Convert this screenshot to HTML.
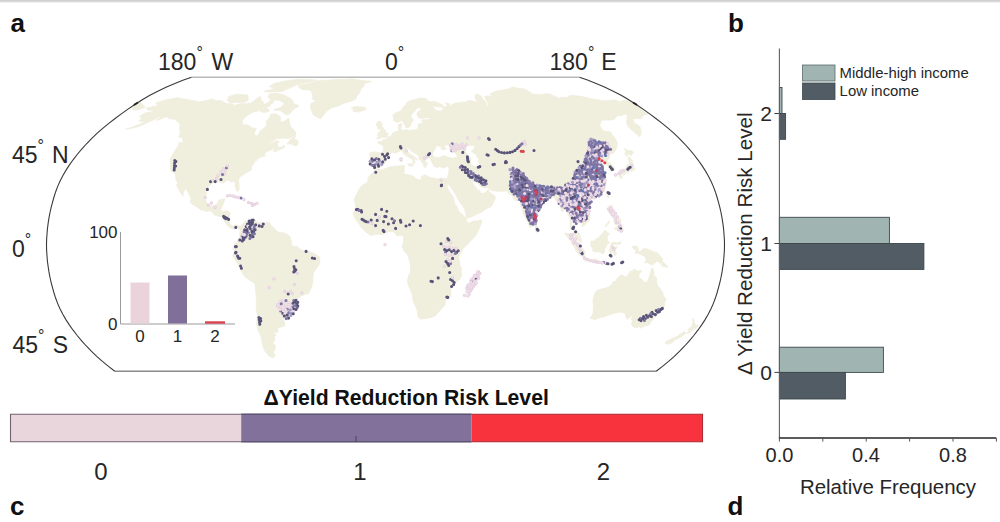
<!DOCTYPE html>
<html lang="en"><head><meta charset="utf-8"><title>Yield Reduction Risk Level</title>
<style>html,body{margin:0;padding:0;background:#fff}body{width:1000px;height:522px;overflow:hidden;font-family:"Liberation Sans", Arial, Helvetica, sans-serif}svg{display:block}text{font-family:"Liberation Sans", Arial, Helvetica, sans-serif;fill:#262626}.b{font-weight:bold;fill:#111}</style>
</head><body>
<svg width="1000" height="522" viewBox="0 0 1000 522">
<rect width="1000" height="522" fill="#fff"/>
<defs><linearGradient id="topg" x1="0" y1="0" x2="0" y2="1"><stop offset="0" stop-color="#cbcbcb"/><stop offset="0.4" stop-color="#d6d6d6"/><stop offset="1" stop-color="#ffffff"/></linearGradient></defs><rect x="0" y="0" width="1000" height="3.2" fill="url(#topg)"/>
<text class="b" x="10.5" y="32" font-size="26">a</text>
<text class="b" x="728" y="31.5" font-size="26">b</text>
<text class="b" x="10" y="514.5" font-size="26">c</text>
<text class="b" x="727.5" y="514.5" font-size="26">d</text>
<defs><clipPath id="mapclip"><path d="M191.5 77.2 183.5 80.1 174.9 83.5 166 87.3 157.3 91.4 149.4 95.6 141.9 100 134.8 104.5 128 109.1 121.3 113.9 114.8 118.7 108.5 123.6 102.4 128.6 96.7 133.7 91.3 138.8 86.3 144 81.7 149.2 77.2 154.5 73.1 159.8 69.3 165.1 65.9 170.4 62.8 175.7 60.1 181 57.7 186.4 55.7 191.7 54 197 52.5 202.4 51.1 207.7 49.9 213 48.9 218.3 48.1 223.7 47.4 229 47 234.3 46.6 239.7 46.5 245 46.6 250.3 47 255.7 47.4 261 48.1 266.3 48.9 271.7 49.9 277 51.1 282.3 52.5 287.6 54 293 55.7 298.3 57.7 303.6 60.1 309 62.8 314.3 65.9 319.6 69.3 324.9 73.1 330.2 77.2 335.5 81.7 340.8 86.3 346 91.3 351.2 96.7 356.3 102.4 361.4 108.5 366.4 114.8 371.3 L656.2 371.3 662.5 366.4 668.6 361.4 674.3 356.3 679.7 351.2 684.7 346 689.3 340.8 693.8 335.5 697.9 330.2 701.7 324.9 705.1 319.6 708.2 314.3 710.9 309 713.3 303.6 715.3 298.3 717 293 718.5 287.6 719.9 282.3 721.1 277 722.1 271.7 722.9 266.3 723.6 261 724 255.7 724.4 250.3 724.5 245 724.4 239.7 724 234.3 723.6 229 722.9 223.7 722.1 218.3 721.1 213 719.9 207.7 718.5 202.4 717 197 715.3 191.7 713.3 186.4 710.9 181 708.2 175.7 705.1 170.4 701.7 165.1 697.9 159.8 693.8 154.5 689.3 149.2 684.7 144 679.7 138.8 674.3 133.7 668.6 128.6 662.5 123.6 656.2 118.7 649.7 113.9 643 109.1 636.2 104.5 629.1 100 621.6 95.6 613.7 91.4 605 87.3 596.1 83.5 587.5 80.1 579.5 77.2Z"/></clipPath><filter id="soft" x="-5%" y="-5%" width="110%" height="110%"><feGaussianBlur stdDeviation="0.6"/></filter><filter id="dsoft" x="-5%" y="-5%" width="110%" height="110%"><feGaussianBlur stdDeviation="0.45"/></filter></defs>
<g clip-path="url(#mapclip)">
<g filter="url(#soft)"><path d="M146.7 108 154.6 106.3 157.4 106.3 157.1 104.5 155.7 103 164.4 100.3 177 97.7 181.8 98.6 185.9 99.4 193.8 100.7 199 101.9 204.4 100.9 213.3 99.1 215.5 100.7 221.2 100.5 226.2 103.6 232.8 103.9 234.2 105.4 241.4 103.6 246.7 103.9 251.9 102.7 257.2 98.2 260.7 96.5 261.1 99.1 261.3 101.2 263.6 101.8 262.9 104.5 266.4 103.6 269.8 100.9 274.1 100.5 273.2 102.7 269.3 105.4 270.7 106.3 265.6 106.7 261 109.1 258.3 111 253.3 111.9 249.7 113.9 245.5 116.8 242 120.7 242.6 123.2 242.5 124.6 247.7 125 252.2 128 256.3 128.2 254.4 132.7 255 134.7 256 136.1 258 135.3 260.6 130.6 264.9 127.6 267 125 266 121.2 268.9 118.7 270.9 114.1 276.7 114.2 279.9 116.4 280.5 118.7 280 120.7 281.6 122 285.1 121 288.5 118.1 289.7 122.6 290.4 126.6 292.7 128.6 294.3 130.6 295.9 133.1 295.6 134.7 293.2 136.1 289.2 138.4 282.7 138.2 277 138.4 272.8 140.9 268.2 144.4 271 143.6 276.1 140.9 279.3 140.9 277.8 143 277.5 145 278.1 147.1 282.2 147.5 283.8 145 284.8 147.1 281.8 148.8 278 150.3 274 152.2 273.4 150.3 276.8 148.6 272.4 149.2 268.5 150.9 265.3 152.8 264.3 154.9 265.2 155.9 262.3 156.8 257.5 158.5 256.4 160.8 254.3 161.2 254.3 163.1 251.7 166.1 251.4 169.7 248.5 171.4 244.3 174 240 176.8 238.6 180 239.1 184.2 239 190 237.1 191.3 236 189.1 235 185.7 235.3 183.2 233.6 181 230.8 181.7 228.4 180.2 226.5 180.4 223.8 183 221.5 182.7 219 181.9 215.3 181.9 213.3 182.7 208.6 185.9 207.4 189.8 205.3 197.5 205.9 201.3 207.5 204.1 210.2 206.2 214.9 205.3 217.8 202.8 218.6 200.2 223.2 198.9 225 199.2 223.5 203.4 221.7 207.7 220 211.1 222.5 211.3 227.2 210.9 230.2 213 229.4 217.3 228.7 221.5 230.2 224.5 233.5 226.2 236.4 224.7 240.1 226.5 240.4 227.9 239 228.8 236.3 226 234.8 227.5 234.3 229.4 232.1 228.6 229.7 227.3 228.6 226.7 226.1 224.1 224.8 221.8 222.3 217.7 221.5 216.6 218.3 216.2 214.7 215.2 210.5 210.5 206.7 211.5 199.9 209.2 196.2 206.6 191.9 204.1 190.3 201.5 191.2 199.2 189.8 195.5 187.6 191.7 185.7 188.1 183 193.4 183.2 196.2 180.1 192.3 177.6 187.4 176.3 185.3 177.9 183.2 176.1 180 175.6 175.7 174.3 172.5 171.1 171.4 170.4 167 170.6 164.4 170 158.9 173.4 153.4 177.7 146.7 179.4 142.1 181.7 143 183.4 140.9 181.9 137.8 178.6 136.8 180.1 133.7 179.9 130 179.6 127.6 180 123.6 177.7 122 175.1 119.3 168.9 118.7 166.5 116.8 160 119.3 155.6 120.3 162.5 116.4 158.6 117.1 151.7 120.7 144.2 124 138.3 126.6 132 128.2 125.5 129.4 132.4 127 141.6 123.6 145.7 121.2 143.2 121.4 138.9 121.2 141.8 118.7 139.7 116.2 145.2 112.9 151.8 111.8 153.9 110.1 147.6 110.1ZM287 143.8 289.7 140.3 292.8 137.4 295.8 135.5 294 138.8 296.9 139.8 298 141.9 297.9 144 296.1 145.7 292.9 145.2 292.5 143.8ZM298.9 106.3 293.9 109.1 290.6 112.9 288.1 114.8 284.9 113.9 282.3 111.9 280.3 110.4 273.3 110.1 280.7 107.3 284.4 103.6 280.7 100.9 277.9 100 270.5 100 268 96.5 269.6 93.9 275.8 93.5 280.6 93.9 284.7 95.2 287.4 97 290.6 98.2 292.9 100.9 293.4 103.6 297.5 105ZM241.2 102.3 229.9 102.7 227 100.1 229 97.7 227.8 97 236.2 94.2 244.7 94.7 248.1 95.2 248.1 100 245.7 101.9ZM263.8 91.4 268.2 92 281.2 91.7 284.8 90.5 285.9 89.4 289.6 88.1 296.3 84.9 307 82.4 315.9 80.1 307.6 79.5 296.4 79.5 282.8 81.4 274.3 83.5 269.4 86.5 274.9 88.1 270.6 89.7ZM259.7 111 263.1 112.5 267.8 111.9 269.5 110.4 267 107.6 263.1 108.2ZM297.9 85.7 308.3 83.5 317.6 80.7 335.2 79.7 352.4 78.9 362.9 80.7 371.8 81.4 364.4 83.5 363.7 86.5 360.5 89.7 359.8 93 356.5 96.5 355.9 99.1 349.9 101.8 344 103.2 337.6 106.3 331.5 107.8 325.9 111.9 320.8 118.7 316.8 117.1 313.2 114.8 311.8 111 310.5 107.3 310.7 103.6 316.1 100.9 312.2 99.1 312.9 96.5 312.2 93 310.3 90 303.1 89.7 299.4 88.1ZM351.3 108.2 354.5 106.5 360.1 106.9 365 107.3 366.2 109.1 363.9 110.6 357.9 112.1 352.9 111.4 354 109.5ZM240.1 226.5 244 222.6 245.4 221.3 249.8 219.8 251.8 218.6 251.4 221.5 254.5 219.4 258.1 222.4 261.8 222.4 265.6 223 269.3 222.2 271.1 225.8 272.9 227.1 275.6 230.1 278.4 232.2 282.1 232.2 286.8 234.3 289.6 236 291.4 241.2 291.3 245 294.2 246.5 297 246.5 302.1 250.3 307.4 251.2 313.1 252.9 319.3 256.7 320 262.1 318.6 265.7 316.2 268.5 313.5 272.7 312.8 277 312.7 282.7 311.2 288.3 308.2 294 305.5 294 300.5 296.2 297.1 299.4 297 303.8 295.4 307.5 292.1 313.2 290.1 317.5 287.8 319.4 285.7 319.4 281.4 317.5 284.4 321.7 284.7 326 277.4 328.1 278 331.9 273.3 332.4 276.4 335.5 274.5 336.6 274.9 340.8 272.3 342.9 275.6 345.4 274.8 350.2 273 351.8 275 355.3 273.2 358.1 269.2 356.3 264.9 351.2 262.5 345 261.6 338.7 260.1 334.5 257.9 330.2 256.6 323.9 257.4 315.4 256.2 309 256.6 302.6 256.1 295.3 255.1 284.2 251.6 281.2 245.7 277.6 243 274.4 241.2 270.6 238.7 266.3 238 264.2 235.6 260.4 232.6 255 234.4 252.2 234.9 250.3 233 249.7 233.3 247.1 234.8 243.3 236.7 241.8 237.1 241.2 240 236.9 239.8 233.3 240.1 230.1 239.2 229.6 240.4 227.9ZM375.1 168.7 376.1 168.5 382 170.2 384.4 168.9 390.8 166.5 397.8 166.1 402.7 165.5 404.9 166.1 404.1 168.3 404.7 171 403.3 172.7 405.2 174.2 409.1 174.9 412.8 175.9 418 180 421.6 179.3 421.4 176.6 424.3 174.9 426.7 175.5 428.6 176.8 430.5 177.6 434.1 178.3 437.8 179.1 439.5 178.5 441.3 177.8 443.7 178.5 444.3 181 444.5 182.1 446.4 185.3 447.1 187 449.6 191.7 451.1 194 453.7 198.1 454.4 203.2 457 206.6 459.1 211.7 462 214.1 464.9 217.3 466.5 218.1 466.4 220.5 467.9 222.6 469.8 222.8 473.5 221.1 477.2 220.9 481.5 219.8 481.4 222.8 479.4 227.9 477.6 232.2 475.8 235.4 470.8 240.7 466.5 245.4 465.5 245.9 462.7 249.3 462.5 249.9 460.2 253.5 458.4 257.8 459.3 259.5 459.6 263.1 459.9 266.3 461.4 267.4 461.2 271.7 461.6 275.9 460 279.1 456.1 282.3 454.2 283.4 450.1 287.2 450.9 291.9 450.7 296.2 445.9 299.4 445.1 300.4 445.3 304.7 441.6 308.7 435.6 315.4 431.3 317.5 421 319.2 418.3 317.5 417.8 314.3 416.8 309 415.5 306 413.2 301.7 412.2 294 410.4 289.8 407.8 283.4 407.5 280.2 408.8 274.8 410.6 271.9 410.3 263.8 408.6 257.8 407.7 255.2 404.3 251.4 403 248.2 401.9 246.5 403.2 244.1 403.6 239.7 403.8 236.5 401.5 235.4 398.7 235.6 396.8 235.8 394.9 232.6 391.9 231.4 388.3 231.8 385.1 233.3 381.7 234.8 378 233.9 374.2 234.8 371 235.6 365.2 231.6 360.7 226.9 359.8 224.7 357.4 221.5 355.6 219.4 354.3 216.2 352.9 213.7 354.8 210.9 355.4 206.6 355.3 203.4 354.1 200.2 356.1 194.9 359 189.6 361.9 185.5 365.5 183.6 367.4 182.1 368 180.2 367.9 177.8 371.9 173.4 373.4 172.5ZM376 168 374.4 167.2 372.5 165.7 369.7 166.1 368.9 162.5 370.5 157.2 369.6 153.4 371.9 151.9 375.8 152.2 380.4 152.6 382.9 152.4 383.5 148.2 383.5 146.7 381.8 144.6 378 143.4 377.6 142.1 380.6 141.3 382.9 141.5 382.9 139.4 385.7 139.8 388.4 137 391.2 135.9 393 132.7 396.6 131.6 399 130.6 398.3 127.6 398.2 124.6 401.8 123.2 401.8 125.6 401.2 127.6 401.3 129.6 402.9 130.6 404.5 130.2 406.8 129.6 408.2 130.6 415.1 129.8 416.8 129.6 417 128.8 418.3 127.2 418 124.6 420.1 123.2 422.6 124.6 422.6 122 421.1 120.3 422.8 119.7 427.8 119.7 430.6 118.7 428.1 117.5 423 118.3 418.5 117.9 417.4 115.8 416.9 112.9 421.8 109.1 419.5 107.6 416.8 108 414.9 111.4 411 114.8 411.2 117.3 413.5 120.1 410.9 123.6 410.4 126.2 407.9 127.6 405.9 127.6 404.9 125.6 403.9 123.2 401.7 120.1 401.1 120.7 397.7 122.4 394.7 121.6 394 120.7 393.3 117.9 392.9 114.8 395.7 112.9 400 111.4 401.3 110.1 403.2 107.3 405.6 104.9 406.8 102.7 410.6 100.5 414.5 99.6 419.8 98 422.9 98.2 427.3 99.3 426.2 100.3 430.7 101.8 434.7 101.4 442.7 104.9 443.4 106.7 439.2 107.1 431.8 105.8 434.9 109.1 435.9 110.4 440.4 111 443.7 109.9 442.2 107.6 447.5 106.3 445.4 102.7 449.2 103.6 450.8 105.8 452.3 104.3 457.1 102.7 460 103 461.1 102.3 466.4 101.9 468.3 100.3 474.3 101.4 477.8 102.7 475.1 98.2 475.4 94.7 477.1 94.4 480.4 95.2 482.4 98.2 486.6 103.6 487.1 106.7 488.6 104.5 484.5 96.5 486.9 96.1 489.4 95.9 492.4 96.5 497.2 99.1 492.4 95.6 489.7 93.9 495.8 91.4 504.2 89.7 509.4 88.9 512.3 87 517 88.1 524.3 88.9 531.4 93 527.3 93.4 531.8 93.9 540.6 94.7 544.7 93.9 549.9 93.9 558.6 98.2 562.2 97.3 567.5 97.3 569.2 95.6 577.3 95.8 584.6 97.1 589 98.4 603.1 100.7 605.8 100.7 615.6 100 619.7 101.8 624.3 100.3 632 101.8 643 109.1 643 110.1 640.3 109.7 648.3 113.9 644.2 115.2 642 116.9 641.6 118.7 635.2 118.7 632.4 118.9 634.1 121.6 634.1 123 639.7 126.2 640.7 129 641.2 132.7 640.5 134.7 639.8 136.8 634.8 132.7 628.1 126.6 626.5 123 627 119.7 627.2 115.8 626.2 113.9 622 115.2 617.5 115.8 613.7 119.7 609.6 120.1 602 120.1 600.4 123 599.8 125.6 602.2 130 603.9 131 608.4 131.6 611 132.3 611.7 133.7 615.2 138.8 617.2 141.9 617.1 146.1 615.7 150.3 612.9 153.8 610.8 153.2 609.6 154.9 609.5 157.6 609.5 158.3 607 160.2 607.5 161.4 610.4 163.4 613.3 166.1 614.5 168.3 614.6 170.2 612.5 171 610.2 171.4 608.7 167.2 607.9 165.1 605.7 164.6 604.2 163.6 603.5 160.8 601.4 159.8 597.6 162.3 597.6 161.2 596.7 158.7 594.5 157.8 593.2 160 591 161.9 593.2 164 594.3 164.6 596.2 165.7 597.4 164.4 600.8 165.3 601.1 166.3 598.4 168.3 597.3 170.4 597.7 171 600.7 173.6 602.4 175.7 604.7 177.4 605 178.9 604.1 180.4 606.1 181.3 606.3 184.2 605.6 185.3 604.5 189.6 604.2 190.6 602.3 192.8 600.1 195.3 595.9 197.5 594.7 197.7 592.1 198.7 589.4 199.6 589.4 201.7 588.1 199.2 586.6 199.2 584.8 199.2 582.8 200.7 581.4 203.4 581.6 205.1 583.3 207.3 585.9 209.8 587.1 210.9 588.7 213 589.6 215.6 590 219.4 587.8 222 586 222.8 585.2 224.7 582.2 226.7 582.3 223.7 581.3 222.8 578.4 221.5 577.3 219.4 574.3 217.9 573.2 216.2 572.5 218.3 572.3 220.5 571.4 222.6 571.8 225.2 573.4 226.9 574.5 229.6 576.2 230.3 577.8 231.8 580 234.8 580.1 236.9 581.3 239.7 581.3 242.2 580.2 242 577.9 240.3 576.2 238.6 574.6 235.4 574.1 233.5 573.6 231.1 572.8 230.1 570.1 228.2 570.1 225.8 570.3 223.3 570.2 219.4 568.6 215.2 567.4 212 567.1 209.8 565.5 208.8 564.5 209.6 563 211.3 561.1 210.9 561 207.7 560.1 204.9 557.3 202.1 555.3 199.6 554.6 197.5 552.7 197 551.4 198.1 549.7 198.7 547.8 198.7 546 199.4 546.1 200.9 544.3 202.8 542.9 203.9 540.2 207.3 538.6 209.6 536.7 211.3 534.8 212.4 535.6 217.1 534.8 219.8 535.1 223 534.2 225.2 532.2 226 531 227.7 529.8 226.9 528.3 223.7 527.4 220.9 525.3 217.5 523 212.2 521.8 208.8 520.4 204.5 520.1 201.3 519.5 199.8 519.1 197.7 518.6 199.8 516.7 200.9 514.8 200.2 512.6 197.5 514.7 196.2 512 195.5 510.8 194.5 509.3 193.8 508.3 192.1 507.2 190.8 503.6 191.3 499.6 191.3 496.5 191.1 493.5 190.8 490.3 190 488.1 187.2 485 188.3 482.2 187.4 477.7 183.4 475.9 181 474 180.2 473.2 181 472.4 182.3 473.6 184.2 475.1 186.4 476.7 188.1 477.3 190.2 478.6 192.1 479.1 189.4 480.1 191.7 480.6 193.8 485.3 192.8 486.8 191.1 488.4 188.9 488.9 191.7 493.2 194.7 495.6 197 494 201.3 492.6 204.5 491.3 206.6 485.9 208.8 482.7 211.7 476.9 214.1 473.3 216 469.6 217.7 466.8 217.9 466.2 216.6 465.5 213.4 465 210 464.5 208.8 461.5 204.5 457.8 199.2 455.3 193.8 453.6 191.3 452.2 189.6 450.2 186.4 448.8 185.3 448.9 182.1 447.9 185.7 445.8 184 444.4 181 443.6 178.3 446.4 178.7 447.2 178.1 448 176.6 448.2 175.1 448.8 172.7 448.9 169.3 449.3 167 446.5 166.5 443.5 168.3 439.6 166.3 437.6 167.8 435.4 166.8 433.7 166.1 432.4 163.1 431.1 161.2 431 159.8 430.5 158.5 430.3 158.1 427.7 157.8 426.8 159.8 425.1 158.7 424.7 159.8 425.6 161.2 427.5 163.6 427.1 164.2 426.3 165.5 426.1 167.2 425 167.2 423.7 166.5 422.9 164.4 423.5 163.6 421.8 162.3 420.6 160.8 419.1 158.9 418.9 157 418.5 155.5 416.5 154.3 413.4 152.4 411.3 151.1 409.8 148.6 408.5 149.4 408.7 148 406.2 148.4 406.5 150.3 406.9 151.3 408.5 152.2 409.8 154.5 413.3 155.7 414.7 157.4 416.6 158.5 417.6 159.5 417.3 160.2 415.3 158.9 414.4 160.6 415.5 161.9 414.4 163.1 413.6 164.2 412.8 164 413.1 161.9 412.8 159.8 411.1 158.5 410 158.1 408.8 157.2 406.5 155.9 405.8 155.3 404.3 154.5 403.4 153.4 403 152.4 402.1 151.1 400.6 150.5 399.1 151.5 397.9 151.9 395.7 153.2 394.7 152.8 392.3 152.4 390.6 153 390.6 154.5 389.3 156.8 387.6 157.4 386.9 158.3 385 160.8 385.8 162.5 384.6 163.4 383.7 164.8 381.3 166.5 377.7 166.8ZM139 101.8 141.2 103 143.2 105.4 145.5 107.1 137.4 110.1 132.9 109.7 132.8 107.3 128 109.1ZM376.2 138.6 378.7 136.3 380.6 135.9 377.1 135.1 378.8 133.1 378.3 132.1 380.7 131.9 380.8 130.2 380 128.8 377.6 129 377.7 127.2 377.9 126.6 376.2 125.4 376.6 123.4 377.9 121.4 380.9 121.4 379.3 123.4 382.4 123.2 382.3 124.4 380.8 126.6 382.4 127 383.3 128.6 385.3 130.4 385.7 131.4 386 132.9 388.2 133.3 388.1 134.7 386.6 135.7 387.8 136.5 386 137.2 383.7 137.2 381.4 137.6 379.8 138 379.6 138.4ZM629.3 156.8 628.4 157.2 627.7 158.5 628.9 160.4 629.1 164 626.5 165.7 626.7 165.1 626.4 166.5 625.8 167.8 626.3 168.9 624.8 168.9 622.9 169.3 620.4 169.5 618.6 171.7 621.1 172.1 623.9 171.4 626.2 171.4 627.9 173.6 629 171.7 628.6 170.4 631.3 171.2 632.3 171.2 633.2 169.3 634.1 170.4 634.9 168.9 633.4 166.5 632.4 163.6 632.5 161.9 632.5 160.6 630.5 158.7ZM626.6 156.6 626 154.9 624.8 154.3 625 152.8 626.4 152.8 625.4 150.3 623.9 148.2 627.6 150.3 631.8 150.7 633.9 152.8 632.1 153.4 631.4 155.5 627.9 154.3 626.6 154.5 627.4 155.9ZM618.8 172.5 620.7 173.6 621.7 174.6 622.1 177.8 621 178.7 619.3 176.8 617.6 174.6 617.7 173.6ZM621.9 172.9 624.4 171.9 625.8 172.9 625.4 174 623.7 175.1 622.1 174ZM608 191.1 609.3 192.8 608.6 198.1 606.7 196 607.1 192.6ZM589 202.4 590.9 203 590.4 205.6 588.7 206.2 586.9 204.1 588.1 202.6ZM535.5 224.1 537.9 226.9 539.4 230.1 538.1 231.8 536.3 232.2 535.4 230.1 535.3 226.9ZM609.2 205.6 612.1 205.6 612.9 208.8 611.9 210.9 612.4 214.1 614.1 214.7 617.1 215.8 617.4 218.1 615.3 216.9 614.4 216.4 612.7 215.4 610.7 215.6 611 213.9 609.5 213.4 608.5 210.2 609.3 209.6 609.2 207.7ZM620.8 224.1 622.6 226.9 623.2 230.1 622.7 231.6 621.4 232.8 621 232 621.7 230.1 618.8 229.4 618.5 231.1 616.5 229 614.7 230.1 614.9 227.9 617.3 226.7 619.2 226.7ZM618 218.3 620.3 218.8 620.9 221.5 620.2 223.3 618.8 222.6 618.8 220.5ZM613.8 219.8 616.1 220.5 616.9 222.6 616.6 225.4 615.2 224.7 614.1 222.6ZM605.5 226.9 607.7 224.7 609.4 222 608.9 220.9 607.2 223.3 605.4 225.8ZM564.7 233.1 568.9 233.9 571.2 236.9 574.5 240.3 579.5 243.9 581.4 247.1 585 251.4 584.4 257.4 582 256.7 578 253.5 575.6 250.3 574.4 246.9 571.9 242.9 570 239.7 567.1 236.9ZM583.2 259.5 584.9 257.8 589.4 259.3 593.1 259.7 594.1 258.6 597.2 259.9 600.5 261.4 600.2 263.5 595.7 262.9 590.2 261.6 585.5 260.8ZM590.8 241.8 591.9 240.7 594.5 241.8 595.2 239.7 598.2 238 600.9 235 602.7 233.3 604.9 230.1 606.7 231.8 609.7 233.9 607.5 235.8 607.2 238.6 607.7 240.7 609.6 242.9 607.3 243.3 606.8 246.1 604.9 248.2 604.4 252.5 603.8 253.5 601.1 253.5 601 252.2 598.2 251.8 595.7 252 592.9 251.2 592.6 248.2 590.8 246.1 590.8 243.9ZM611.1 243.3 613.2 242.2 618.1 243.1 621.3 241.6 620 244.1 617.7 244.4 613.4 244.1 611.9 246.9 614.3 247.1 617.7 246.7 616.2 248.6 614.6 249.3 616.6 253.5 615.5 255.2 614 255 613.3 251.4 612.1 251.4 611.9 256.7 610.2 256.7 610.4 252.5 609.1 251 610.2 247.8 611.1 245ZM632.2 246.7 635 245.9 637.9 246.7 638.2 249.9 639.6 252 643.5 248.8 646.3 248.8 650.9 250.5 657.4 253.1 659.7 255.2 661.6 257.8 663.2 259.3 661.7 259.7 663.3 262.5 665.9 264.6 668.1 267 665.7 267 662.4 266.3 659.6 262.5 656.9 261.2 654.8 263.1 652.8 264.6 650 264.4 647.4 262.3 644.5 262.9 646.3 259.9 645 256.7 641.3 254.8 637.6 253.3 635.4 253.5 635.7 251.2 637.4 250.1 634 249.7ZM652.5 267.8 653.9 271.7 653.8 275.7 656.4 277 656.6 281 657.4 285.9 660.1 288.1 660.9 290.2 663.2 293 662.8 294.9 665 298.3 666.2 298.3 664.3 303.6 664.4 306 661.2 311.1 657.2 315.1 655.1 317.3 651.1 321.7 649 324.9 645 325.8 640.7 328.3 639.4 326 635.9 327.9 632.5 326.2 631.4 323.9 632.4 321.3 631.4 319.6 632.4 315.4 632.4 314.5 629.7 317.5 627.2 319.2 626.6 319.2 625.6 315.4 625.3 313.4 621.2 312.2 617.5 312.4 611.5 313.9 607.4 315.4 602.9 317.3 598.3 318.1 595 319.6 590.2 318.3 593.3 313.2 593.1 310 593.5 306.4 593 300.4 593.5 297.2 595.7 291.5 598.8 289.8 601.3 288.9 604.8 288.3 609.5 286.6 612.3 283.4 613.2 281.2 615.2 281.9 616.3 279.8 618.6 277 621.7 274.8 623.9 275.9 624.5 277 627 276.8 630.1 271.4 633.4 270.6 633.6 268.9 638 271 641.5 270.6 641.6 271.2 639.5 273.8 638.5 277 641.5 279.1 644.3 282.3 647.1 282.3 649.3 277 650.4 272.7 650.7 271.9 651.6 268.5ZM692.9 318.3 694.3 320.7 693.8 323.5 695.3 323.5 694.9 325.2 698 325.2 698.8 325.4 695.3 328.6 693.5 329.2 689.9 332.4 686.9 333.4 686.7 333 689.1 330.9 687.9 329.2 690.3 327.7 692.5 324.9 692.8 322.8 692.6 319.6ZM684.5 331.3 685.7 333.2 682.1 336.2 679.2 338.1 675.3 339.7 672.2 342.7 668.5 344.1 667 343.9 664.8 342.9 667.4 340.8 671.6 338.7 676.7 336.6 680.4 334.1ZM407.4 164 412.6 163.6 412.3 166.5 408.4 165.5ZM399.8 157.6 402.2 157.6 402.2 161.4 400.3 161.9Z" fill="#f0eedd" stroke="#f0eedd" stroke-width="0.8" stroke-linejoin="round"/>
<path d="M433.6 155.7 432.6 154.5 433.1 153 434.2 150.9 435.6 148.8 436.8 146.1 439.1 146.5 441.9 147.1 440.3 148.6 442 150.3 443.4 150.5 445.1 149.4 446.9 149.2 447.2 148.6 444.2 147.1 444.9 146.1 448 145 450.9 144.6 449.1 146.1 449.4 149.8 453.1 152.2 455.5 153.4 457.1 156.4 454.1 157.6 452 157.8 448.1 157 445.6 155.5 442.7 155.5 439.6 157 435.5 157.2ZM465.4 148.2 467.5 146.1 470.6 145.5 474.1 146.1 474 148.8 471.8 150.3 470.9 151.3 473.4 153.4 475.9 154.5 476.7 157.6 478.6 158.7 477.8 161.2 479.9 164.4 477.1 166.5 474.4 166.1 471.5 164.6 470.8 161.2 471.7 158.7 468.9 155.9 466.6 153.4 465.2 150.7Z" fill="#fff"/></g>
<g filter="url(#dsoft)">
<path d="M221 172h0M223.2 169h0M225.3 170h0M224.5 174h0M216.5 178.5h0M205.3 197.4h0M211.5 203h0M232.8 196h0M235.5 197h0M248.5 202.5h0M251.5 203.5h0M254.5 204.5h0M248.2 228.1h0M256.1 227h0M297.5 273.5h0M286.8 292.6h0M290.6 291.4h0M284.8 302.9h0M284.1 307.5h0M282.5 306.5h0M288.4 310.6h0M283.4 304.8h0M282.5 308.2h0M282.9 303.1h0M286.8 311.8h0M406.3 150.8h0M424.5 158.2h0M456.1 144.4h0M459.5 148.6h0M459.1 145.8h0M462.2 147.5h0M462 143.8h0M451.7 148.4h0M453.7 146.3h0M441.2 180.3h0M372 223.5h0M379.5 217h0M446.2 247.6h0M453 248.6h0M447.4 259.6h0M446.4 241.6h0M473.3 286.9h0M467.3 286.5h0M478.2 276.3h0M476.7 279h0M464.5 295.3h0M468.9 289.7h0M471.5 289.5h0M475.1 284.7h0M523.4 142.6h0M524.6 141.6h0M525 144.2h0M536.1 209.5h0M533.6 214.5h0M521.5 197.1h0M511.2 171.4h0M554.7 190.8h0M535.8 216.8h0M530.6 221.6h0M542.9 198.3h0M517.5 171.5h0M581.8 174.6h0M589.2 140.6h0M595 149h0M588.4 160.2h0M608.8 146.4h0M592.1 166.7h0M597.4 156.4h0M598.9 148.5h0M589.1 152.8h0M595.8 159.2h0M576.3 175.8h0M578.2 193.9h0M576.8 190.5h0M577 184.3h0M579.1 200.5h0M594.7 181.9h0M578.7 188.7h0M565 186.9h0M569.4 186.5h0M599.8 191.8h0M601.2 189.4h0M579.8 192.9h0M581.1 200.5h0M588.2 199.5h0M592 193.5h0M568.2 193.7h0M583.5 183h0M590.3 179.8h0M581.8 192.5h0M618.8 173.6h0M623.5 170.6h0M554.2 190.8h0M550.2 187.5h0M560.5 189.3h0M569.3 207.3h0M577.9 212.3h0M565.2 203h0M569.2 202.8h0M576 210.9h0M574.5 215h0M562.5 200.2h0M570.5 235h0M582.4 254.6h0M587.5 259.5h0M590.5 260.6h0M593.5 261.4h0M612 214h0M615.6 219.2h0M615.5 213.5h0M611 208.2h0M613.4 210.8h0M616.4 222.4h0M614 249h0" stroke="#e3cbdd" stroke-width="3.3" stroke-linecap="round" fill="none"/>
<path d="M221 172h0M223.2 169h0M225.3 170h0M224.5 174h0M216.5 178.5h0M205.3 197.4h0M211.5 203h0M232.8 196h0M235.5 197h0M248.5 202.5h0M251.5 203.5h0M254.5 204.5h0M248.2 228.1h0M256.1 227h0M297.5 273.5h0M286.8 292.6h0M290.6 291.4h0M284.8 302.9h0M284.1 307.5h0M282.5 306.5h0M288.4 310.6h0M283.4 304.8h0M282.5 308.2h0M282.9 303.1h0M286.8 311.8h0M406.3 150.8h0M424.5 158.2h0M456.1 144.4h0M459.5 148.6h0M459.1 145.8h0M462.2 147.5h0M462 143.8h0M451.7 148.4h0M453.7 146.3h0M441.2 180.3h0M372 223.5h0M379.5 217h0M446.2 247.6h0M453 248.6h0M447.4 259.6h0M446.4 241.6h0M473.3 286.9h0M467.3 286.5h0M478.2 276.3h0M476.7 279h0M464.5 295.3h0M468.9 289.7h0M471.5 289.5h0M475.1 284.7h0M523.4 142.6h0M524.6 141.6h0M525 144.2h0M536.1 209.5h0M533.6 214.5h0M521.5 197.1h0M511.2 171.4h0M554.7 190.8h0M535.8 216.8h0M530.6 221.6h0M542.9 198.3h0M517.5 171.5h0M581.8 174.6h0M589.2 140.6h0M595 149h0M588.4 160.2h0M608.8 146.4h0M592.1 166.7h0M597.4 156.4h0M598.9 148.5h0M589.1 152.8h0M595.8 159.2h0M576.3 175.8h0M578.2 193.9h0M576.8 190.5h0M577 184.3h0M579.1 200.5h0M594.7 181.9h0M578.7 188.7h0M565 186.9h0M569.4 186.5h0M599.8 191.8h0M601.2 189.4h0M579.8 192.9h0M581.1 200.5h0M588.2 199.5h0M592 193.5h0M568.2 193.7h0M583.5 183h0M590.3 179.8h0M581.8 192.5h0M618.8 173.6h0M623.5 170.6h0M554.2 190.8h0M550.2 187.5h0M560.5 189.3h0M569.3 207.3h0M577.9 212.3h0M565.2 203h0M569.2 202.8h0M576 210.9h0M574.5 215h0M562.5 200.2h0M570.5 235h0M582.4 254.6h0M587.5 259.5h0M590.5 260.6h0M593.5 261.4h0M612 214h0M615.6 219.2h0M615.5 213.5h0M611 208.2h0M613.4 210.8h0M616.4 222.4h0M614 249h0" stroke="#efe1ea" stroke-width="2.1" stroke-linecap="round" fill="none"/>
<path d="M513.5 185.4h0M540.5 197.1h0M536.8 215.5h0M530.6 213.9h0M537.1 185.1h0M529.8 181.3h0M511.6 187.4h0M527.5 210.3h0M520 198h0M523.5 185.7h0M511.1 174.1h0M536.5 220.8h0M521.5 188.2h0M514.8 180.4h0M520.6 182.7h0M527.3 206.6h0M592.4 158.8h0M597.7 149.8h0M592.5 148.1h0M595.7 168.4h0M584.8 170.4h0M594.2 142.5h0M580.4 172.9h0M592.9 139.7h0M595.7 157.4h0M599.1 143.7h0M590.9 154h0M592.7 163.4h0M597.8 191.1h0M573.1 190.3h0M603.6 185.5h0M599 195.9h0M591.2 197.1h0M602.5 178.8h0M573.1 178.8h0M581.5 202.2h0M560.6 195.5h0M561.2 201.3h0M561.8 206h0M581 216.1h0M574 219.5h0M578.6 217.5h0M585.2 219.9h0M571 207.1h0" stroke="#a69dc6" stroke-width="3.1" stroke-linecap="round" fill="none"/>
<path d="M245.8 232.1h0M246.3 235.9h0M248.7 232.3h0M253.8 228.6h0M280.6 311h0M292.7 306.4h0M293.7 300.5h0M297 307.7h0M375 164.7h0M372.7 165.4h0M372.3 161.2h0M452.2 143.7h0M368 222h0M445.6 252.2h0M476.9 180.6h0M482.8 184.4h0M486.3 183.7h0M468.4 171.3h0M475.7 178.3h0M522 143.8h0M517 188h0M526 190.7h0M539.4 204.2h0M511.7 184.4h0M534.5 216h0M545.4 191h0M519.7 171.7h0M550.6 188.2h0M534.9 205.3h0M520.2 193.9h0M518.9 194.7h0M538.1 188.3h0M528.9 188.1h0M520 186.8h0M547.6 186.8h0M528.3 218.4h0M526.8 212.8h0M543.2 188.4h0M521.5 190.1h0M547.4 199.2h0M532.1 196.5h0M545.2 195.6h0M530.3 194.9h0M515.1 192.4h0M531.9 215.2h0M525.2 183h0M525.9 198.7h0M516.9 169.5h0M540.5 207.1h0M534.9 202.3h0M530.5 207.5h0M532.9 182.8h0M535.5 222.1h0M523.3 173.6h0M524.9 192h0M526.8 178.5h0M528.9 213.9h0M538.2 203.1h0M544.8 188.9h0M531 200.5h0M542 203.6h0M532.1 213.3h0M523.1 183.4h0M529.9 197h0M536.5 207.7h0M518.2 181h0M528.5 208.5h0M525 205.6h0M547.2 189.3h0M529.6 185.5h0M555.7 188.2h0M533.6 217.3h0M524.9 187.5h0M540.1 193.6h0M529.1 191.2h0M528.2 195.9h0M592.4 156.7h0M602.8 151.8h0M587.7 174.5h0M582 171.5h0M600.6 142.5h0M593.8 162.2h0M586.8 170.1h0M605.9 148.2h0M586.8 154.6h0M604.7 177.1h0M602.3 166.4h0M586.7 176.4h0M599.9 177.7h0M588.3 169.3h0M602.8 144.7h0M595.7 141.7h0M589.6 165.8h0M595.9 177.9h0M607.2 152.4h0M591.9 171.1h0M610.7 149.2h0M598.6 158.2h0M594 157.7h0M599.8 155.4h0M580 174.8h0M590.6 145h0M603.8 146.1h0M593.3 146.7h0M598.7 164.2h0M604.7 151.8h0M583 173.5h0M576.4 173.5h0M593.5 178.2h0M598.2 146h0M592.2 145.1h0M598.3 178h0M601 144.2h0M595.3 165.1h0M589.9 202.9h0M587.1 189.8h0M580.9 182.4h0M576.8 182.5h0M600.8 185.8h0M569.8 190.6h0M596.4 185.1h0M575.8 194.5h0M577.3 178.5h0M567.5 191.8h0M588.3 191.3h0M598.2 185.8h0M601.6 191.6h0M585 192.6h0M595.3 188.5h0M573.7 199.2h0M593.3 194.3h0M572.9 184.9h0M579.1 181.8h0M586.7 192.8h0M571.7 188.7h0M559.9 187.5h0M562.2 190.9h0M557.4 187.9h0M563.6 190.2h0M578.8 204.9h0M570.4 199.5h0M574 211.2h0M567.5 210.5h0M567 208.3h0M575.8 219.3h0M570.3 212.6h0M572.7 207h0M574.2 221.5h0M562.8 204.8h0M620 226.6h0" stroke="#7f76a6" stroke-width="3.1" stroke-linecap="round" fill="none"/>
<path d="M174.8 160.5h0M175.6 166h0M223.6 216.2h0M224.2 217.4h0M250.4 225.6h0M250.7 223.5h0M247.3 229.6h0M242.2 236h0M245.3 237.3h0M249.1 224h0M249.2 221h0M253.2 220h0M242.2 239.3h0M253.6 231.9h0M252.2 232.5h0M255.1 229.8h0M259.3 225.9h0M263.3 224.1h0M239.8 258.3h0M235.6 252.9h0M241.4 268.3h0M295 271h0M295.8 269.8h0M297.8 302.3h0M296.7 304.1h0M282.8 313.2h0M294.8 302h0M260.6 318.6h0M260.8 321h0M378.6 166.2h0M386.8 155h0M387.6 153.8h0M375.8 172.3h0M400.4 146.6h0M489.4 139.5h0M441.6 185h0M356.4 209.6h0M357.8 209.2h0M361.2 210.6h0M362 219.2h0M363.4 220h0M375.6 214.4h0M377.2 220.4h0M375.6 225.6h0M384.8 216.4h0M386 216.6h0M383.6 221.6h0M383.2 230.4h0M392 218.8h0M406 226h0M444.6 249.6h0M458.2 250.8h0M446 261.6h0M448.7 265.4h0M431 281.3h0M432.4 281.6h0M478.4 272.5h0M471.3 281.3h0M465.4 172.5h0M461.7 166h0M465.3 167.5h0M481.4 182.9h0M463.2 167h0M483.5 179.8h0M464.9 170h0M468.6 175.4h0M481.2 177.7h0M470.1 177.1h0M467.3 172.7h0M467.6 158.6h0M468.4 161.8h0M494.4 164.2h0M505.8 161.5h0M478.3 167.3h0M506.2 162.4h0M495.7 149.2h0M497.4 150.6h0M519 146.6h0M534 150.5h0M533.1 200.9h0M510.5 188.8h0M549.4 193h0M516.1 190.2h0M533.6 211h0M522.9 187.4h0M532.3 204.7h0M543 195.4h0M534.7 189.3h0M523.4 177.9h0M541.6 194.1h0M525.8 181h0M525.5 196.3h0M516.5 193.7h0M516.4 174.6h0M538 210.8h0M530.4 215.5h0M515.5 172.3h0M605.5 153.8h0M599.1 150.7h0M600.5 149.7h0M587.1 163.2h0M608.4 149.6h0M595.3 146.4h0M603.3 173.9h0M585.1 176.4h0M592.3 169.1h0M602.2 146.8h0M602.5 181.4h0M583 179.5h0M565.7 185h0M585.3 200.2h0M595.6 196.6h0M581.9 198.8h0M580.6 178.7h0M582.7 200.5h0M578 161.6h0M563.7 192.6h0M577.8 206.9h0M588.8 203.9h0M583.1 212.6h0M582 218.9h0M574.5 217.8h0M559.2 203.4h0M585.8 212.9h0M586.4 218.4h0M581.4 252.4h0M573 228.4h0M606.3 263.3h0M613.4 263.4h0M621.6 262.8h0M645.2 318.8h0M649.6 315.6h0M651.4 316.6h0M653.2 313.8h0M655.4 314.6h0M643.6 316.6h0M652 312.4h0" stroke="#595379" stroke-width="3.1" stroke-linecap="round" fill="none"/>
<path d="M532.2 186.5h0M539.8 185.7h0M531.9 191h0M552.5 189.6h0M522 181.9h0M532.1 207.2h0M605 172.8h0M584.5 168.8h0M586.7 159.6h0M596.8 183.4h0M583 191h0M571.2 184.5h0M592 179.4h0M585.7 186.9h0M572.2 199.6h0" stroke="#5c74b4" stroke-width="3.1" stroke-linecap="round" fill="none"/>
<path d="M218 175.3h0M215.2 207.3h0M230 195.3h0M244 199.5h0M257 203.3h0M252.5 205.6h0M294.5 284.5h0M279.9 309.5h0M289 302.9h0M290.2 308.4h0M279.3 306.4h0M280.1 302h0M281.9 301h0M284.8 313.3h0M401 159.5h0M426.5 156.5h0M464 146.3h0M450.4 145.2h0M456.5 148.3h0M467.5 137.8h0M479 137.8h0M443.4 246.6h0M449.8 247.2h0M449 255.4h0M452.4 254.8h0M444.2 266.4h0M467.1 291.9h0M468.2 284.9h0M473.9 279.9h0M470.4 290.9h0M473.1 284.1h0M469.7 286.3h0M470.9 287.8h0M531.9 211.4h0M536.7 212.2h0M520.4 178.5h0M541.8 192.1h0M530.2 190h0M544.8 187.3h0M594.4 153.9h0M605 145h0M578.1 176.3h0M600.4 146.1h0M589.4 156.3h0M584.2 164.7h0M607.1 154.9h0M594.3 170.2h0M596.8 147.2h0M584.3 178.4h0M593.1 174.7h0M595.1 155.8h0M599.1 167.1h0M590.2 148.4h0M588.5 157.9h0M601.2 151.6h0M580.3 169.2h0M598.1 179.4h0M590.1 193.3h0M591.3 195.2h0M582.3 203.6h0M593.5 190h0M572.4 180.6h0M603 190.3h0M579.1 186.3h0M597.4 189.5h0M588.4 184.6h0M598.2 181.7h0M572.4 194.9h0M589.9 181.5h0M603.9 187.3h0M570.6 182.8h0M593.1 185.7h0M590.2 183.5h0M599.4 187.8h0M574.8 188.2h0M574.2 180.4h0M586.2 195.5h0M621 172h0M615.5 175h0M632 165.5h0M552.1 187.4h0M554.7 188.1h0M562.3 195.2h0M553.5 192.7h0M583.6 220.8h0M571 201.6h0M585.1 214.7h0M583.3 216.5h0M568.6 200.9h0M587.3 205.5h0M577.6 219.7h0M560.8 204h0M573.2 209.5h0M569.2 210.8h0M588.8 209h0M581.6 204.5h0M578.5 214.4h0M564.9 198h0M558.8 201.5h0M586.4 209.2h0M568.4 198.9h0M578.1 202.4h0M567.1 202.3h0M558.9 199.3h0M574.2 213.4h0M579 248.6h0M580.4 251.4h0M572.8 234.4h0M570.6 238.4h0M573.6 243h0M578.8 244.6h0M584.6 258h0M596.5 262h0M599.5 262.6h0M605 262.4h0M608.5 209h0M620.6 227h0M617.5 217h0M612.6 247.2h0" stroke="#e3cbdd" stroke-width="3.3" stroke-linecap="round" fill="none"/>
<path d="M218 175.3h0M215.2 207.3h0M230 195.3h0M244 199.5h0M257 203.3h0M252.5 205.6h0M294.5 284.5h0M279.9 309.5h0M289 302.9h0M290.2 308.4h0M279.3 306.4h0M280.1 302h0M281.9 301h0M284.8 313.3h0M401 159.5h0M426.5 156.5h0M464 146.3h0M450.4 145.2h0M456.5 148.3h0M467.5 137.8h0M479 137.8h0M443.4 246.6h0M449.8 247.2h0M449 255.4h0M452.4 254.8h0M444.2 266.4h0M467.1 291.9h0M468.2 284.9h0M473.9 279.9h0M470.4 290.9h0M473.1 284.1h0M469.7 286.3h0M470.9 287.8h0M531.9 211.4h0M536.7 212.2h0M520.4 178.5h0M541.8 192.1h0M530.2 190h0M544.8 187.3h0M594.4 153.9h0M605 145h0M578.1 176.3h0M600.4 146.1h0M589.4 156.3h0M584.2 164.7h0M607.1 154.9h0M594.3 170.2h0M596.8 147.2h0M584.3 178.4h0M593.1 174.7h0M595.1 155.8h0M599.1 167.1h0M590.2 148.4h0M588.5 157.9h0M601.2 151.6h0M580.3 169.2h0M598.1 179.4h0M590.1 193.3h0M591.3 195.2h0M582.3 203.6h0M593.5 190h0M572.4 180.6h0M603 190.3h0M579.1 186.3h0M597.4 189.5h0M588.4 184.6h0M598.2 181.7h0M572.4 194.9h0M589.9 181.5h0M603.9 187.3h0M570.6 182.8h0M593.1 185.7h0M590.2 183.5h0M599.4 187.8h0M574.8 188.2h0M574.2 180.4h0M586.2 195.5h0M621 172h0M615.5 175h0M632 165.5h0M552.1 187.4h0M554.7 188.1h0M562.3 195.2h0M553.5 192.7h0M583.6 220.8h0M571 201.6h0M585.1 214.7h0M583.3 216.5h0M568.6 200.9h0M587.3 205.5h0M577.6 219.7h0M560.8 204h0M573.2 209.5h0M569.2 210.8h0M588.8 209h0M581.6 204.5h0M578.5 214.4h0M564.9 198h0M558.8 201.5h0M586.4 209.2h0M568.4 198.9h0M578.1 202.4h0M567.1 202.3h0M558.9 199.3h0M574.2 213.4h0M579 248.6h0M580.4 251.4h0M572.8 234.4h0M570.6 238.4h0M573.6 243h0M578.8 244.6h0M584.6 258h0M596.5 262h0M599.5 262.6h0M605 262.4h0M608.5 209h0M620.6 227h0M617.5 217h0M612.6 247.2h0" stroke="#efe1ea" stroke-width="2.1" stroke-linecap="round" fill="none"/>
<path d="M290.4 309.8h0M290.8 315.4h0M381.7 164.4h0M524.7 204.1h0M524.1 189.6h0M538.3 198.2h0M515.3 187.8h0M543.4 200.6h0M520.6 180.8h0M550.9 193h0M544 192.9h0M600.7 153.8h0M593.5 143.9h0M575 172h0M596.7 144.8h0M601.9 156h0M578.4 197h0M599.2 189.6h0M583.2 197h0M579.6 180.2h0M604.2 183.5h0M585.1 194.2h0M558.4 191.3h0M556.5 193h0M553.5 189.4h0M563 201.9h0M576.3 221.3h0M586.9 207.4h0" stroke="#a69dc6" stroke-width="3.1" stroke-linecap="round" fill="none"/>
<path d="M222.5 174.5h0M241 198h0M244.1 231.8h0M252.5 234.7h0M254.2 226.7h0M250.8 237.1h0M254.4 233.8h0M286 300.5h0M288.8 312.7h0M295.4 305.6h0M376.3 158.6h0M473.3 173.5h0M533.3 195.1h0M532.6 218.6h0M533 224.3h0M520.1 184.3h0M529.5 211.8h0M531.3 203h0M530.3 192.6h0M526.5 205.3h0M526.7 208.8h0M514.4 190.5h0M512.7 169.6h0M538.8 190.4h0M528.1 180.9h0M529.6 199.4h0M532.3 222h0M528.1 203.5h0M536.9 206h0M543.8 186.2h0M542.9 190.8h0M517.7 196.1h0M551.2 195.1h0M534.4 207.7h0M513 168h0M517 173.2h0M527.5 192.2h0M534.2 193.2h0M539.2 195.4h0M533.9 222.2h0M547.9 191.1h0M527.2 214.9h0M513.1 180.6h0M539.6 192.2h0M527.7 183.8h0M530.7 223.5h0M533.8 212.6h0M523.1 204.6h0M526.7 182.3h0M553.5 194.4h0M527 193.7h0M521.7 192.2h0M510.6 183.2h0M539.1 209.6h0M544.7 199.4h0M596.2 174.7h0M584.4 161.7h0M594.4 176.9h0M589.3 146.4h0M599.5 152.7h0M604.4 148.8h0M587.7 172.4h0M592.9 165.1h0M581.6 177.5h0M590.8 160.6h0M591.8 152.2h0M597.4 143.3h0M601 164.7h0M597.8 154.7h0M590.8 177.6h0M600.5 168.6h0M596.9 164.4h0M591 162.6h0M600.7 176.1h0M592 142.8h0M595.2 163.5h0M586.3 157.7h0M606.5 146h0M574.6 176.1h0M602.2 176.4h0M578.7 178.1h0M588.2 155.2h0M595.1 144.6h0M607.5 147.4h0M595.6 150.9h0M580.2 166.1h0M593.4 152.3h0M592.6 176.6h0M601.7 173.6h0M585.2 159.2h0M580 170.9h0M605.3 142.9h0M591.2 149.9h0M594.6 140.6h0M591.3 146.7h0M574 194h0M593.7 192.5h0M576.9 186.8h0M591.5 187.6h0M595.3 190.3h0M594.4 184h0M569.8 192.2h0M575.8 191.8h0M586.9 202.4h0M581.3 187.3h0M590 189.2h0M586.6 198h0M584.7 185.5h0M591.3 201.7h0M600.1 179.3h0M582.7 184.4h0M577.1 198.2h0M575.1 185.3h0M594.9 178.3h0M579.9 184.9h0M552.5 191.4h0M555.5 190h0M572.4 214.2h0M585.1 211.2h0M586.9 215.4h0M581.1 221.1h0M579.5 209.8h0M589.8 207.4h0M581.9 207.4h0M579.3 220.1h0M574.7 207.5h0M582.4 215.1h0M565.1 207.7h0M586.7 211.2h0M569.2 204.8h0M580 203.4h0M620.7 228.9h0M650.6 313.8h0" stroke="#7f76a6" stroke-width="3.1" stroke-linecap="round" fill="none"/>
<path d="M174.6 163h0M174.2 170h0M210.6 181.6h0M207.4 189.4h0M228.6 219.4h0M235.8 227.4h0M244.7 229.7h0M242.3 240.9h0M251.7 220.4h0M247.5 224h0M246.2 226.6h0M255.7 224.8h0M250 235.3h0M262 226.5h0M306.1 251.4h0M312.3 258h0M314.6 258.5h0M294 266.6h0M293.8 271.9h0M297.8 305.9h0M287.2 315.1h0M284.3 316h0M288.6 318.1h0M293.8 308.8h0M258.9 317.5h0M259.2 319.8h0M259.5 322h0M382.7 161.9h0M378.1 164.2h0M371.9 158.9h0M382.5 154.3h0M384.6 156.6h0M429.6 153.6h0M452 150.8h0M462.8 152.4h0M488.5 138.6h0M441.3 185.8h0M371.2 220h0M386.8 211.2h0M393.6 222.8h0M395.6 228.4h0M400.9 222.2h0M409.6 224.8h0M448.8 240h0M441 243.8h0M454 250.4h0M456.6 252.4h0M447.6 263.4h0M449.7 272.5h0M450.6 279.5h0M454.2 282.5h0M453.6 284.6h0M447.8 297.4h0M475.6 278h0M467.5 169.6h0M475.3 175.5h0M462.3 169.7h0M484.7 182.6h0M467.4 156.8h0M467.8 160.4h0M493 164.6h0M501.6 152.5h0M504.4 152.9h0M512.5 151.8h0M515 150.4h0M517.2 148.5h0M521.7 179.3h0M518.1 176.3h0M521.3 177.1h0M545.8 200.5h0M536.4 190.3h0M527.9 200.4h0M541.8 189.2h0M528.1 197.5h0M518.7 173.4h0M525.8 184.5h0M538.1 200h0M516.3 179.3h0M526.5 187.2h0M518.6 170.5h0M511.3 177.2h0M529.2 220.3h0M553.2 191.1h0M525.5 201.3h0M543.4 202.4h0M537.2 229.3h0M604.2 175.3h0M601.6 148.5h0M606 150.3h0M595.6 152.9h0M585.9 177.8h0M578.9 202.1h0M588.2 194.7h0M570.4 187.8h0M572.8 197.3h0M611.3 168.3h0M610.2 166.8h0M628.9 168h0M630.2 167.2h0M608 192.5h0M565.5 190.8h0M580.4 212h0M575.1 209.1h0M612 264.3h0M622.8 262h0M611 256h0M610.2 255.2h0M573 228.2h0M620.5 229h0M641 320.6h0M656.2 310.6h0" stroke="#595379" stroke-width="3.1" stroke-linecap="round" fill="none"/>
<path d="M546.1 188.1h0M510.4 181.5h0M546.3 193.2h0M535.7 195h0M511.6 190.6h0M597.1 167.7h0M605.6 155.5h0M576.8 177.6h0M599 141.8h0M593.4 167.9h0M581.3 190.2h0M577.7 195.6h0" stroke="#5c74b4" stroke-width="3.1" stroke-linecap="round" fill="none"/>
<path d="M226.5 167.8h0M246.8 233.9h0M249.9 238.5h0M287.4 309.3h0M281.2 303.7h0M286.3 318.6h0M359 210.4h0M394.5 220.8h0M455.4 253.4h0M450.6 263.5h0M473.5 176.3h0M471 171.6h0M484.6 184.6h0M470.7 173.8h0M475.2 180h0M478.5 176.1h0M460.3 167.3h0M520.5 145.1h0M516.1 182.1h0M523.3 192.1h0M533.6 197.3h0M523.9 181.9h0M522.5 195.1h0M536.1 187.8h0M532.2 184.5h0M514 194.1h0M514.1 183.7h0M530.9 217h0M546.6 196.1h0M555.1 192.8h0M535.7 219.2h0M512.3 173h0M520.9 174.5h0M517.9 192.6h0M512.7 188.6h0M530.2 205.3h0M531.2 188.4h0M553.9 188.1h0M536.3 191.9h0M525.8 194.7h0M533.3 187.8h0M547.9 192.7h0M515.7 170.7h0M534.1 185.2h0M540.3 187.5h0M549.9 197.3h0M523.8 196.1h0M548.9 187.7h0M541.8 186.3h0M513.9 171.1h0M557.5 188.6h0M523.5 175.6h0M537.5 196.5h0M540.9 205.3h0M525.2 177.2h0M519.1 182.3h0M514.6 174.7h0M534.5 209.8h0M530.7 219h0M537.1 193.9h0M533.6 220.7h0M526.3 211.2h0M556.6 190.4h0M518.8 188h0M514 178.4h0M510.2 185.4h0M535.6 196.6h0M520.5 195.7h0M536.5 198h0M518.7 185.9h0M519.3 199.5h0M519.7 191.5h0M530 183.3h0M530.7 187h0M514.1 181.9h0M535.3 214.3h0M517.7 189.7h0M523 180.5h0M533.7 191.7h0M517.1 186.3h0M539.6 199.6h0M540.1 189.3h0M590.2 169h0M601 172.1h0M589.1 142.4h0M602.5 168h0M583.5 176.9h0M585.5 167.1h0M591.4 172.9h0M589.3 173.9h0M593.7 171.8h0M603.2 171.9h0M587.6 161.5h0M596.8 172.5h0M596.7 160.5h0M599 173.5h0M588.1 164.7h0M602.6 169.6h0M595 160.5h0M603.1 142.8h0M578.7 172.8h0M590.2 171.7h0M578.8 169.8h0M599.1 170.8h0M598 161.9h0M574.9 174.3h0M582 169.6h0M596.6 166h0M589.9 158.7h0M597 152.2h0M590.5 175.7h0M594.9 172.9h0M595.1 166.8h0M596.6 170.3h0M598.7 160.5h0M588.5 151.2h0M588.9 163.3h0M591 140.8h0M598.9 168.7h0M586 164.9h0M590.5 164.5h0M588.5 171h0M589.2 144.2h0M591.3 191h0M570.1 195h0M587.9 179.8h0M576 199.9h0M601 194.3h0M579.7 190.8h0M584.6 196.1h0M595.7 180h0M584.2 188.7h0M568.1 183.8h0M587.4 186.7h0M597 195.3h0M588.5 203.7h0M575.6 178.8h0M593.7 179.6h0M586.9 205.5h0M563.8 194.4h0M561.6 188.1h0M561.4 193.5h0M576.3 223.4h0M567 197.7h0M576.1 213.3h0M576.9 217.2h0M580.3 205.8h0M585.1 207.6h0M575.3 201.6h0M572 211.8h0M578 209.1h0M580.1 214.5h0M566.8 200.1h0M560.8 199.1h0M568.8 209.3h0M577.3 215.5h0M603.4 262.4h0M640.4 318.2h0M658.6 309.6h0M644.4 320.4h0" stroke="#7f76a6" stroke-width="3.1" stroke-linecap="round" fill="none"/>
<path d="M227.4 165.8h0M212.8 180.3h0M208.5 205.2h0M227.4 195.8h0M238.3 197.5h0M247.9 226.1h0M244.4 234.9h0M249.3 230.7h0M242.5 234.4h0M241.2 238.1h0M273.9 278.8h0M269.3 287.7h0M301.9 293h0M284.5 291.2h0M292.4 293.6h0M286.7 306.4h0M289.2 306.9h0M278 304.3h0M291.3 304.8h0M285.9 310.1h0M288.8 304.9h0M283 309.8h0M277.6 306.2h0M293.5 311.7h0M452.7 150.4h0M464.6 149.1h0M466.2 144.8h0M455.1 150.7h0M385 244.6h0M456 248.4h0M445.2 254.6h0M450.4 261h0M450.6 242.6h0M452.5 277.4h0M479.9 273.4h0M467.9 295.9h0M478.7 278.2h0M474.7 281.5h0M477.1 273.4h0M476.2 282.9h0M471.5 279.1h0M476.1 276.5h0M466.8 288.5h0M473.6 277.6h0M469.4 293.9h0M470.4 284.5h0M471 282h0M477.9 271.3h0M474.5 275.5h0M511.5 179h0M524.7 193.6h0M541.4 202.1h0M526.9 185.6h0M531.9 220.1h0M526.4 203.7h0M584.5 172.2h0M589.6 150h0M602.6 153.6h0M608.8 152.1h0M588 166.8h0M596.2 154.7h0M607.6 143.7h0M602.9 150h0M599.7 162.1h0M588.6 147.9h0M571.4 186.5h0M574.3 186.6h0M590.2 198.3h0M582.7 194.3h0M584.9 197.7h0M584.2 181.1h0M592.1 183.4h0M596.3 191.9h0M579.7 198.9h0M605.1 180.6h0M574.4 201h0M589.9 185.2h0M594.1 197.8h0M593.1 181.4h0M585.2 189.9h0M577.4 180.6h0M586.1 179.8h0M571.2 193.1h0M582 181.1h0M595.3 194.4h0M586.3 185.1h0M593.2 187.9h0M574.7 181.9h0M599.8 181.2h0M599.9 184.1h0M567.2 185.2h0M604 181.9h0M588.4 188.7h0M565.4 193.1h0M564.2 188.6h0M558.9 189.3h0M582.3 209.5h0M575.9 205h0M580.6 208.6h0M584.7 218.1h0M564.2 200.7h0M589.5 211.1h0M566.9 205.1h0M577.9 221.6h0M576.2 203.2h0M564.6 206.1h0M587.9 212.3h0M571 209.1h0M562.1 198.1h0M571 204.3h0M580.3 218.5h0M584 205.9h0M588.1 214h0M574.3 204.2h0M570.7 214.4h0M572.8 216.2h0M563.5 196.6h0M572.3 237.6h0M574.2 240.2h0M576 242.8h0M577.6 245.6h0M575.6 239h0M602.5 263h0M610.2 211.5h0M613.8 216.6h0M617.4 221.8h0M619.2 224.4h0M618.6 229.8h0M621.2 231h0" stroke="#e3cbdd" stroke-width="3.3" stroke-linecap="round" fill="none"/>
<path d="M227.4 165.8h0M212.8 180.3h0M208.5 205.2h0M227.4 195.8h0M238.3 197.5h0M247.9 226.1h0M244.4 234.9h0M249.3 230.7h0M242.5 234.4h0M241.2 238.1h0M273.9 278.8h0M269.3 287.7h0M301.9 293h0M284.5 291.2h0M292.4 293.6h0M286.7 306.4h0M289.2 306.9h0M278 304.3h0M291.3 304.8h0M285.9 310.1h0M288.8 304.9h0M283 309.8h0M277.6 306.2h0M293.5 311.7h0M452.7 150.4h0M464.6 149.1h0M466.2 144.8h0M455.1 150.7h0M385 244.6h0M456 248.4h0M445.2 254.6h0M450.4 261h0M450.6 242.6h0M452.5 277.4h0M479.9 273.4h0M467.9 295.9h0M478.7 278.2h0M474.7 281.5h0M477.1 273.4h0M476.2 282.9h0M471.5 279.1h0M476.1 276.5h0M466.8 288.5h0M473.6 277.6h0M469.4 293.9h0M470.4 284.5h0M471 282h0M477.9 271.3h0M474.5 275.5h0M511.5 179h0M524.7 193.6h0M541.4 202.1h0M526.9 185.6h0M531.9 220.1h0M526.4 203.7h0M584.5 172.2h0M589.6 150h0M602.6 153.6h0M608.8 152.1h0M588 166.8h0M596.2 154.7h0M607.6 143.7h0M602.9 150h0M599.7 162.1h0M588.6 147.9h0M571.4 186.5h0M574.3 186.6h0M590.2 198.3h0M582.7 194.3h0M584.9 197.7h0M584.2 181.1h0M592.1 183.4h0M596.3 191.9h0M579.7 198.9h0M605.1 180.6h0M574.4 201h0M589.9 185.2h0M594.1 197.8h0M593.1 181.4h0M585.2 189.9h0M577.4 180.6h0M586.1 179.8h0M571.2 193.1h0M582 181.1h0M595.3 194.4h0M586.3 185.1h0M593.2 187.9h0M574.7 181.9h0M599.8 181.2h0M599.9 184.1h0M567.2 185.2h0M604 181.9h0M588.4 188.7h0M565.4 193.1h0M564.2 188.6h0M558.9 189.3h0M582.3 209.5h0M575.9 205h0M580.6 208.6h0M584.7 218.1h0M564.2 200.7h0M589.5 211.1h0M566.9 205.1h0M577.9 221.6h0M576.2 203.2h0M564.6 206.1h0M587.9 212.3h0M571 209.1h0M562.1 198.1h0M571 204.3h0M580.3 218.5h0M584 205.9h0M588.1 214h0M574.3 204.2h0M570.7 214.4h0M572.8 216.2h0M563.5 196.6h0M572.3 237.6h0M574.2 240.2h0M576 242.8h0M577.6 245.6h0M575.6 239h0M602.5 263h0M610.2 211.5h0M613.8 216.6h0M617.4 221.8h0M619.2 224.4h0M618.6 229.8h0M621.2 231h0" stroke="#efe1ea" stroke-width="2.1" stroke-linecap="round" fill="none"/>
<path d="M290.7 313.1h0M377 162.4h0M370.1 161.3h0M379.7 161.3h0M512.2 182.3h0M538.2 208.2h0M523.2 202.9h0M535.7 200.3h0M541.1 198.7h0M540.6 200.8h0M535.4 223.7h0M515.1 185.1h0M523.4 198h0M521.6 199.1h0M513.2 176.6h0M531.7 198.9h0M529.9 209.4h0M509.9 169.6h0M549.3 195.7h0M520.9 172.7h0M579.6 176.8h0M592.6 150.8h0M579.1 167.6h0M585.3 174.7h0M585.9 156.1h0M590.8 139.1h0M590.3 167.3h0M584.4 201.7h0M567.2 188.4h0M572.5 182.2h0M570.6 196.8h0M583.2 186h0M584.8 183.9h0M587.1 182.4h0M595.3 186.9h0M576.9 188.5h0M556.3 191.3h0M551.1 189h0M573 202.2h0M584.2 209h0" stroke="#a69dc6" stroke-width="3.1" stroke-linecap="round" fill="none"/>
<path d="M174.4 165.5h0M174.3 168h0M175.9 161.5h0M215.2 181.6h0M221 179.5h0M225.3 217.2h0M227 218.2h0M225.6 218.6h0M250.2 228.5h0M243.8 239.4h0M243.1 238h0M252.3 224.1h0M239.8 240h0M252.5 222.4h0M247.2 231.1h0M249.6 227h0M249.5 222.5h0M251.9 231h0M253 236.7h0M236.3 246.6h0M236 252.3h0M238.2 257.5h0M235.5 246.6h0M238.7 258.2h0M240.6 266h0M237.6 256h0M296.2 260.7h0M294.6 268.8h0M288.2 294h0M293 303.2h0M296 309.5h0M296 300.2h0M293.2 313.8h0M259.8 324.3h0M378.8 159.3h0M374.6 167.4h0M374.5 160h0M370.2 164h0M388.6 157.6h0M385.3 159.3h0M401 148h0M428.5 154.8h0M361.6 212h0M366 221.6h0M364.8 221h0M381.6 209.4h0M384 231.6h0M388.4 224h0M400.4 220.4h0M413.2 221h0M420.4 225.6h0M447.8 238.6h0M446.8 250.6h0M449.2 249.8h0M451.6 251.6h0M452.6 258.4h0M438.2 277.9h0M452.5 280.8h0M451.6 286.5h0M446.8 297h0M478.8 178.2h0M479.5 181.5h0M472 177.4h0M485.9 180.8h0M476.7 176.7h0M481.1 180.4h0M487 154.8h0M488.2 155.2h0M479.8 166.6h0M499 151.8h0M507.2 152.8h0M510 152.4h0M535.1 186.3h0M528.8 194.3h0M524.6 207.2h0M524.5 179.7h0M519.6 189.9h0M538.7 206.2h0M515.8 176.3h0M551 190.9h0M518.2 179.4h0M522.1 185h0M521.5 200.9h0M527.6 216.6h0M539.1 201.7h0M551.5 186.7h0M534.2 219.3h0M528.7 205.8h0M538 230.3h0M512.2 191.4h0M506.2 162h0M505.4 162.6h0M582.7 165.9h0M581.9 167.6h0M576.8 170.4h0M586.2 173.4h0M587.6 153.1h0M585.7 162.7h0M597 176.6h0M573.3 178.2h0M574.8 196.5h0M585.5 204.1h0M575.1 189.9h0M571.1 198.3h0M566.1 189.6h0M612.4 169.4h0M627.8 169.2h0M609.2 193.4h0M558.6 193.4h0M572.3 218h0M573.7 227h0M575.6 231.7h0M580.4 246h0M582.2 253.6h0M608 263.8h0M639.2 319.8h0M642.6 318.6h0M647.6 317.2h0M646.4 315.2h0M657.6 312.2h0M659.4 311.6h0M661 309.4h0M662.4 308.4h0" stroke="#595379" stroke-width="3.1" stroke-linecap="round" fill="none"/>
<path d="M522 197.5h0M524.5 199.5h0M523.2 201.2h0M525.6 197.4h0M535 190.5h0M537 192.6h0M536 194.8h0M534.4 214.5h0M535.6 217h0M535 219.2h0M541 199h0M596.5 170.5h0M588.5 185h0" stroke="#b8426a" stroke-width="3.1" stroke-linecap="round" fill="none"/>
<path d="M521.2 151.2h0M523.2 151.4h0M523.6 199h0M536.2 192.2h0M535.2 216.4h0M599.2 158.8h0M602 160.8h0M604.8 162.8h0M578 207.6h0M579.2 208.6h0" stroke="#e0404e" stroke-width="3.1" stroke-linecap="round" fill="none"/>
</g>
</g>
<path d="M191.5 77.2 H579.5" stroke="#b9b9b9" stroke-width="1.4" fill="none"/>
<path d="M114.8 371.3 H656.2" stroke="#8a8a8a" stroke-width="1.4" fill="none"/>
<path d="M191.5 77.2 183.5 80.1 174.9 83.5 166 87.3 157.3 91.4 149.4 95.6 141.9 100 134.8 104.5 128 109.1 121.3 113.9 114.8 118.7 108.5 123.6 102.4 128.6 96.7 133.7 91.3 138.8 86.3 144 81.7 149.2 77.2 154.5 73.1 159.8 69.3 165.1 65.9 170.4 62.8 175.7 60.1 181 57.7 186.4 55.7 191.7 54 197 52.5 202.4 51.1 207.7 49.9 213 48.9 218.3 48.1 223.7 47.4 229 47 234.3 46.6 239.7 46.5 245 46.6 250.3 47 255.7 47.4 261 48.1 266.3 48.9 271.7 49.9 277 51.1 282.3 52.5 287.6 54 293 55.7 298.3 57.7 303.6 60.1 309 62.8 314.3 65.9 319.6 69.3 324.9 73.1 330.2 77.2 335.5 81.7 340.8 86.3 346 91.3 351.2 96.7 356.3 102.4 361.4 108.5 366.4 114.8 371.3" stroke="#3a3a3a" stroke-width="1.1" fill="none"/>
<path d="M579.5 77.2 587.5 80.1 596.1 83.5 605 87.3 613.7 91.4 621.6 95.6 629.1 100 636.2 104.5 643 109.1 649.7 113.9 656.2 118.7 662.5 123.6 668.6 128.6 674.3 133.7 679.7 138.8 684.7 144 689.3 149.2 693.8 154.5 697.9 159.8 701.7 165.1 705.1 170.4 708.2 175.7 710.9 181 713.3 186.4 715.3 191.7 717 197 718.5 202.4 719.9 207.7 721.1 213 722.1 218.3 722.9 223.7 723.6 229 724 234.3 724.4 239.7 724.5 245 724.4 250.3 724 255.7 723.6 261 722.9 266.3 722.1 271.7 721.1 277 719.9 282.3 718.5 287.6 717 293 715.3 298.3 713.3 303.6 710.9 309 708.2 314.3 705.1 319.6 701.7 324.9 697.9 330.2 693.8 335.5 689.3 340.8 684.7 346 679.7 351.2 674.3 356.3 668.6 361.4 662.5 366.4 656.2 371.3" stroke="#3a3a3a" stroke-width="1.1" fill="none"/>
<path d="M137.9 102.5L134 105" stroke="#222" stroke-width="2"/>
<path d="M633.1 102.5L637 105" stroke="#222" stroke-width="2"/>
<text x="158" y="69.5" font-size="23">180<tspan dy="-12" font-size="16">°</tspan><tspan dy="12" dx="2.3"> W</tspan></text>
<text x="385" y="69.5" font-size="23">0<tspan dy="-12" font-size="16">°</tspan></text>
<text x="549.5" y="69.5" font-size="23">180<tspan dy="-12" font-size="16">°</tspan><tspan dy="12" dx="0.6"> E</tspan></text>
<text x="12" y="162.5" font-size="23">45<tspan dy="-12" font-size="16">°</tspan><tspan dy="12" dx="1.5"> N</tspan></text>
<text x="12" y="257.3" font-size="23">0<tspan dy="-12" font-size="16">°</tspan></text>
<text x="12.5" y="353" font-size="23">45<tspan dy="-12" font-size="16">°</tspan><tspan dy="12" dx="1.8"> S</tspan></text>
<path d="M120.5 232V324H235" stroke="#9a9a9a" stroke-width="1" fill="none"/>
<rect x="130.5" y="282.5" width="19" height="41" fill="#ead3da"/>
<rect x="168" y="275.5" width="19" height="48" fill="#7f6f99"/>
<rect x="205" y="321.3" width="20" height="2.4" fill="#d9434f"/>
<text x="117.5" y="238" font-size="17" text-anchor="end">100</text>
<text x="117.5" y="330" font-size="17" text-anchor="end">0</text>
<text x="140" y="342" font-size="17" text-anchor="middle">0</text>
<text x="177.5" y="342" font-size="17" text-anchor="middle">1</text>
<text x="215" y="342" font-size="17" text-anchor="middle">2</text>
<text class="b" x="406.2" y="405" font-size="21.2" text-anchor="middle">ΔYield Reduction Risk Level</text>
<rect x="10.5" y="414.2" width="230.7" height="27.6" fill="#e9d6dd"/>
<rect x="241.2" y="414.2" width="230.3" height="27.6" fill="#81719b"/>
<rect x="471.5" y="414.2" width="231" height="27.6" fill="#f8333d"/>
<path d="M241.2 414.2H10.5V441.8H241.2" fill="none" stroke="#6e6470" stroke-width="1.1"/>
<path d="M241.2 414.2H471.5M241.2 441.8H471.5" fill="none" stroke="#4b4262" stroke-width="1.2"/>
<path d="M471.5 414.2H702.5V441.8H471.5" fill="none" stroke="#a92c37" stroke-width="1.1"/>
<path d="M356 442v-6" stroke="#4a4450" stroke-width="1"/>
<text x="101" y="480" font-size="24" text-anchor="middle">0</text>
<text x="360" y="480" font-size="24" text-anchor="middle">1</text>
<text x="603.5" y="480" font-size="24" text-anchor="middle">2</text>
<rect x="779.4" y="87.5" width="2.6" height="26" fill="#a0b5b2" stroke="#3d484c" stroke-width="0.9"/>
<rect x="779.4" y="113.5" width="6.2" height="25.8" fill="#525c65" stroke="#3d484c" stroke-width="0.9"/>
<rect x="779.4" y="217.3" width="110" height="26.2" fill="#a0b5b2" stroke="#3d484c" stroke-width="0.9"/>
<rect x="779.4" y="243.5" width="144.5" height="25.9" fill="#525c65" stroke="#3d484c" stroke-width="0.9"/>
<rect x="779.4" y="347.2" width="104" height="25.2" fill="#a0b5b2" stroke="#3d484c" stroke-width="0.9"/>
<rect x="779.4" y="372.4" width="66" height="26.6" fill="#525c65" stroke="#3d484c" stroke-width="0.9"/>
<path d="M779.4 48.6V438" stroke="#5e5e5e" stroke-width="1.1" fill="none"/>
<path d="M778.9 438H996.3" stroke="#262626" stroke-width="1.3" fill="none"/>
<path d="M779.4 113.5h-5" stroke="#444" stroke-width="1"/>
<path d="M779.4 243.5h-5" stroke="#444" stroke-width="1"/>
<path d="M779.4 372.4h-5" stroke="#444" stroke-width="1"/>
<path d="M779.4 438v3.6" stroke="#555" stroke-width="1"/>
<path d="M822.8 438v3.6" stroke="#555" stroke-width="1"/>
<path d="M866.2 438v3.6" stroke="#555" stroke-width="1"/>
<path d="M909.6 438v3.6" stroke="#555" stroke-width="1"/>
<path d="M953 438v3.6" stroke="#555" stroke-width="1"/>
<path d="M996.4 438v3.6" stroke="#555" stroke-width="1"/>
<text x="772" y="121" font-size="21" text-anchor="end">2</text>
<text x="772" y="251" font-size="21" text-anchor="end">1</text>
<text x="772" y="380" font-size="21" text-anchor="end">0</text>
<text x="779.5" y="462.3" font-size="20" text-anchor="middle">0.0</text>
<text x="866" y="462.3" font-size="20" text-anchor="middle">0.4</text>
<text x="953" y="462.3" font-size="20" text-anchor="middle">0.8</text>
<text x="888" y="494.3" font-size="20.45" text-anchor="middle">Relative Frequency</text>
<text transform="translate(752 375) rotate(-90)" font-size="20.6">Δ Yield Reduction Risk Level</text>
<rect x="802.5" y="65" width="32.5" height="16" fill="#a0b5b2" stroke="#5b6a6b" stroke-width="0.8"/>
<rect x="802.5" y="83" width="32.5" height="16.5" fill="#525c65" stroke="#3d484c" stroke-width="0.8"/>
<text x="839.6" y="77.5" font-size="14.9">Middle-high income</text>
<text x="839.6" y="95.8" font-size="14.9">Low income</text>
</svg></body></html>
